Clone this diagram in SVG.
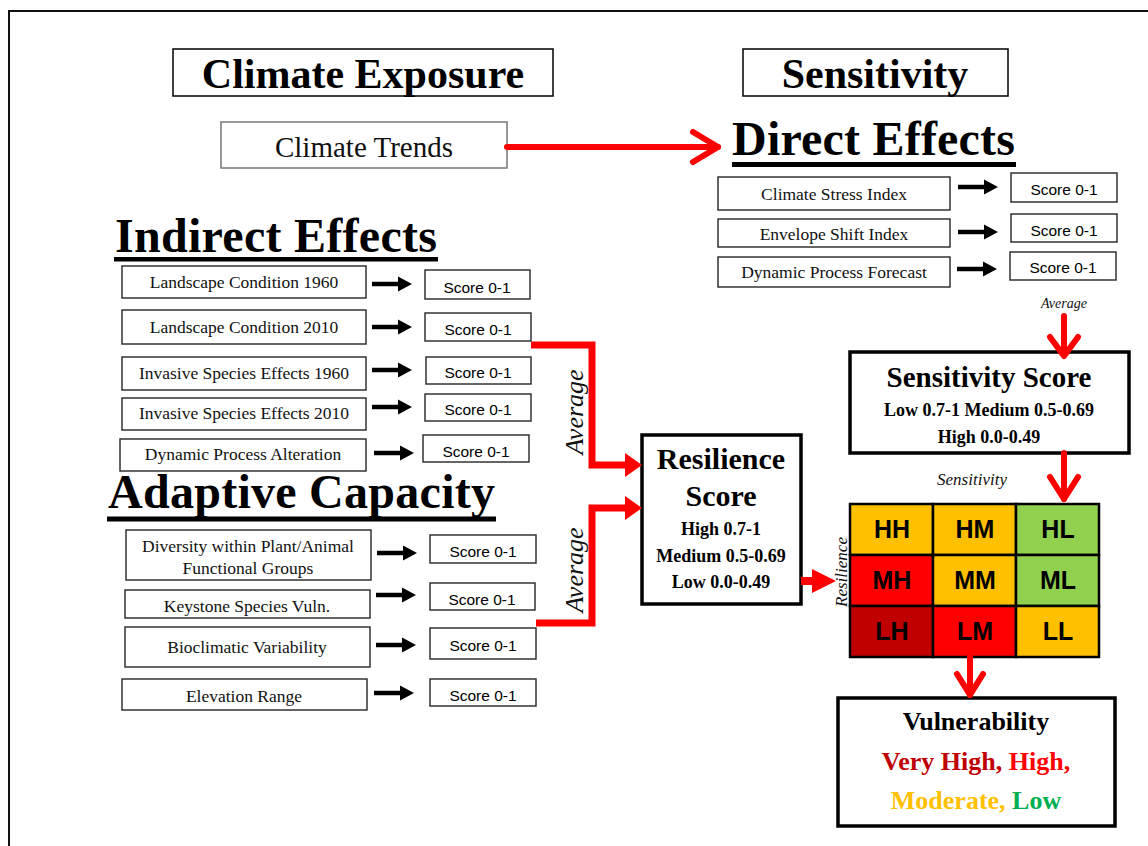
<svg xmlns="http://www.w3.org/2000/svg" xmlns:xlink="http://www.w3.org/1999/xlink" width="1148" height="846" viewBox="0 0 1148 846">
<style>
.bx{fill:#fff;stroke:#333;stroke-width:1.5}
.tb{fill:#fff;stroke:#000;stroke-width:1.5}
.thick{fill:#fff;stroke:#000;stroke-width:3.5}
.it{font-family:"Liberation Serif","Times New Roman",serif;font-size:17.5px;fill:#111;text-anchor:middle}
.sc{font-family:"Liberation Sans",Arial,sans-serif;font-size:15.5px;fill:#000;text-anchor:middle}
.h1{font-family:"Liberation Serif","Times New Roman",serif;font-weight:bold;font-size:42px;fill:#000;text-anchor:middle}
.h2{font-family:"Liberation Serif","Times New Roman",serif;font-weight:bold;font-size:48px;fill:#000}
.bd{font-family:"Liberation Serif","Times New Roman",serif;font-weight:bold;fill:#000;text-anchor:middle}
.ital{font-family:"Liberation Serif","Times New Roman",serif;font-style:italic;fill:#111;text-anchor:middle}
.grid{font-family:"Liberation Sans",Arial,sans-serif;font-weight:bold;font-size:25px;fill:#000;text-anchor:middle}
.cell{stroke:#000;stroke-width:2.5}
.red{fill:none;stroke:#ff0000;stroke-width:7}
.chev{fill:none;stroke:#ff0000;stroke-width:6;stroke-linecap:round;stroke-linejoin:round}
</style>
<defs>
<g id="barrow"><line x1="0" y1="0" x2="28" y2="0" stroke="#000" stroke-width="4.5"/><polygon points="26,-7.5 40,0 26,7.5" fill="#000"/></g>
</defs>
<rect x="0" y="0" width="1148" height="846" fill="#fff"/>
<path d="M9,846 V11 H1148" fill="none" stroke="#111" stroke-width="2"/>

<g id="climate-exposure"><rect class="tb" x="173" y="49" width="380" height="47"/><text class="h1" x="363" y="88">Climate Exposure</text></g>
<g id="sensitivity-title"><rect class="tb" x="743" y="49" width="265" height="47"/><text class="h1" x="875" y="88">Sensitivity</text></g>
<g id="climate-trends"><rect x="221" y="122" width="286" height="46" fill="#fff" stroke="#777" stroke-width="1.5"/><text x="364" y="157" font-family="Liberation Serif, serif" font-size="29" text-anchor="middle" fill="#111">Climate Trends</text></g>

<g id="direct-effects-title"><text class="h2" x="732" y="155" textLength="283">Direct Effects</text><rect x="732" y="162" width="284" height="5" fill="#000"/></g>
<g id="indirect-effects-title"><text class="h2" x="115" y="252" textLength="322">Indirect Effects</text><rect x="114" y="257" width="324" height="4.5" fill="#000"/></g>
<g id="adaptive-capacity-title"><text class="h2" x="108" y="508" textLength="387">Adaptive Capacity</text><rect x="107" y="516.5" width="389" height="5" fill="#000"/></g>

<g id="climate-stress"><rect class="bx" x="718" y="177" width="232" height="33"/><text class="it" x="834" y="200">Climate Stress Index</text></g>
<g id="envelope-shift"><rect class="bx" x="718" y="219" width="232" height="28"/><text class="it" x="834" y="240">Envelope Shift Index</text></g>
<g id="dynamic-forecast"><rect class="bx" x="718" y="257" width="232" height="30"/><text class="it" x="834" y="278">Dynamic Process  Forecast</text></g>
<g id="score-d1"><rect class="bx" x="1011" y="173" width="106" height="29"/><text class="sc" x="1064" y="195">Score 0-1</text></g>
<g id="score-d2"><rect class="bx" x="1011" y="214" width="106" height="28"/><text class="sc" x="1064" y="236">Score 0-1</text></g>
<g id="score-d3"><rect class="bx" x="1010" y="252" width="106" height="28"/><text class="sc" x="1063" y="273">Score 0-1</text></g>

<g id="landscape-1960"><rect class="bx" x="122" y="266" width="244" height="32"/><text class="it" x="244" y="288">Landscape Condition 1960</text></g>
<g id="landscape-2010"><rect class="bx" x="122" y="310" width="244" height="34"/><text class="it" x="244" y="333">Landscape Condition 2010</text></g>
<g id="invasive-1960"><rect class="bx" x="122" y="357" width="244" height="33"/><text class="it" x="244" y="379">Invasive Species  Effects 1960</text></g>
<g id="invasive-2010"><rect class="bx" x="122" y="398" width="244" height="32"/><text class="it" x="244" y="419">Invasive Species  Effects 2010</text></g>
<g id="dynamic-alteration"><rect class="bx" x="120" y="439" width="246" height="32"/><text class="it" x="243" y="460">Dynamic Process Alteration</text></g>
<g id="score-i1"><rect class="bx" x="425" y="270" width="105" height="29"/><text class="sc" x="477" y="293">Score 0-1</text></g>
<g id="score-i2"><rect class="bx" x="425" y="313" width="106" height="28"/><text class="sc" x="478" y="335">Score 0-1</text></g>
<g id="score-i3"><rect class="bx" x="426" y="357" width="105" height="27"/><text class="sc" x="478" y="378">Score 0-1</text></g>
<g id="score-i4"><rect class="bx" x="425" y="394" width="106" height="27"/><text class="sc" x="478" y="415">Score 0-1</text></g>
<g id="score-i5"><rect class="bx" x="423" y="435" width="106" height="27"/><text class="sc" x="476" y="457">Score 0-1</text></g>

<g id="diversity"><rect class="bx" x="126" y="530" width="245" height="50"/><text class="it" x="248" y="552">Diversity within Plant/Animal</text><text class="it" x="248" y="574">Functional Groups</text></g>
<g id="keystone"><rect class="bx" x="125" y="590" width="245" height="28"/><text class="it" x="247" y="612">Keystone Species Vuln.</text></g>
<g id="bioclimatic"><rect class="bx" x="125" y="627" width="245" height="40"/><text class="it" x="247" y="653">Bioclimatic Variability</text></g>
<g id="elevation"><rect class="bx" x="122" y="679" width="245" height="31"/><text class="it" x="244" y="702">Elevation Range</text></g>
<g id="score-a1"><rect class="bx" x="430" y="535" width="106" height="28"/><text class="sc" x="483" y="557">Score 0-1</text></g>
<g id="score-a2"><rect class="bx" x="430" y="583" width="105" height="27"/><text class="sc" x="482" y="605">Score 0-1</text></g>
<g id="score-a3"><rect class="bx" x="430" y="628" width="106" height="31"/><text class="sc" x="483" y="651">Score 0-1</text></g>
<g id="score-a4"><rect class="bx" x="430" y="679" width="106" height="27"/><text class="sc" x="483" y="701">Score 0-1</text></g>

<g id="resilience-score"><rect class="thick" x="642" y="435" width="159" height="169"/>
<text class="bd" x="721" y="469" font-size="30">Resilience</text>
<text class="bd" x="721" y="506" font-size="30">Score</text>
<text class="bd" x="721" y="535" font-size="18">High 0.7-1</text>
<text class="bd" x="721" y="562" font-size="18">Medium 0.5-0.69</text>
<text class="bd" x="721" y="588" font-size="18">Low 0.0-0.49</text></g>

<g id="sensitivity-score"><rect class="thick" x="850" y="352" width="279" height="101"/>
<text class="bd" x="989" y="387" font-size="29">Sensitivity Score</text>
<text class="bd" x="989" y="416" font-size="18">Low 0.7-1 Medium 0.5-0.69</text>
<text class="bd" x="989" y="443" font-size="18">High 0.0-0.49</text></g>

<g id="labels">
<text class="ital" x="1064" y="308" font-size="14">Average</text>
<text class="ital" x="972" y="485" font-size="17">Sensitivity</text>
<text class="ital" font-size="17" transform="translate(847,572) rotate(-90)">Resilience</text>
<text class="ital" font-size="26" transform="translate(583,412) rotate(-90)">Average</text>
<text class="ital" font-size="26" transform="translate(583,570) rotate(-90)">Average</text>
</g>

<g id="matrix">
<rect class="cell" x="850" y="504" width="83" height="51" fill="#ffc000"/>
<rect class="cell" x="933" y="504" width="83" height="51" fill="#ffc000"/>
<rect class="cell" x="1016" y="504" width="83" height="51" fill="#92d050"/>
<rect class="cell" x="850" y="555" width="83" height="51" fill="#ff0000"/>
<rect class="cell" x="933" y="555" width="83" height="51" fill="#ffc000"/>
<rect class="cell" x="1016" y="555" width="83" height="51" fill="#92d050"/>
<rect class="cell" x="850" y="606" width="83" height="51" fill="#c00000"/>
<rect class="cell" x="933" y="606" width="83" height="51" fill="#ff0000"/>
<rect class="cell" x="1016" y="606" width="83" height="51" fill="#ffc000"/>
<text class="grid" x="892" y="538">HH</text><text class="grid" x="975" y="538">HM</text><text class="grid" x="1058" y="538">HL</text>
<text class="grid" x="892" y="589">MH</text><text class="grid" x="975" y="589">MM</text><text class="grid" x="1058" y="589">ML</text>
<text class="grid" x="892" y="640">LH</text><text class="grid" x="975" y="640">LM</text><text class="grid" x="1058" y="640">LL</text>
</g>

<g id="vulnerability"><rect class="thick" x="838" y="698" width="277" height="128"/>
<text class="bd" x="976" y="730" font-size="26">Vulnerability</text>
<text class="bd" x="976" y="770" font-size="26"><tspan fill="#c00000">Very High, </tspan><tspan fill="#ff0000">High,</tspan></text>
<text class="bd" x="976" y="809" font-size="26"><tspan fill="#ffc000">Moderate, </tspan><tspan fill="#00b050">Low</tspan></text></g>

<g id="connectors">
<use xlink:href="#barrow" x="958" y="187"/>
<use xlink:href="#barrow" x="958" y="232"/>
<use xlink:href="#barrow" x="957" y="269"/>
<use xlink:href="#barrow" x="372" y="284"/>
<use xlink:href="#barrow" x="372" y="327"/>
<use xlink:href="#barrow" x="372" y="370"/>
<use xlink:href="#barrow" x="372" y="407"/>
<use xlink:href="#barrow" x="374" y="453"/>
<use xlink:href="#barrow" x="377" y="553"/>
<use xlink:href="#barrow" x="376" y="595"/>
<use xlink:href="#barrow" x="376" y="645"/>
<use xlink:href="#barrow" x="374" y="693"/>
<line class="chev" x1="507" y1="147" x2="718" y2="147"/>
<polyline class="chev" points="693,132 718,147 693,162"/>
<line class="chev" x1="1064" y1="316" x2="1064" y2="355"/>
<polyline class="chev" points="1050,337 1064,356 1078,337"/>
<line class="chev" x1="1064" y1="453" x2="1064" y2="499"/>
<polyline class="chev" points="1050,477 1064,499 1078,477"/>
<line class="chev" x1="970" y1="657" x2="970" y2="695"/>
<polyline class="chev" points="957,674 970,695 983,674"/>
<path class="red" d="M531,345 H592 V465 H627"/>
<polygon points="625,453 642,465 625,477" fill="#ff0000"/>
<path class="red" d="M536,623 H592 V508 H627"/>
<polygon points="625,496 642,508 625,520" fill="#ff0000"/>
<line x1="801" y1="581" x2="815" y2="581" stroke="#ff0000" stroke-width="8"/>
<polygon points="812,569 836,581 812,593" fill="#ff0000"/>
</g>
</svg>
